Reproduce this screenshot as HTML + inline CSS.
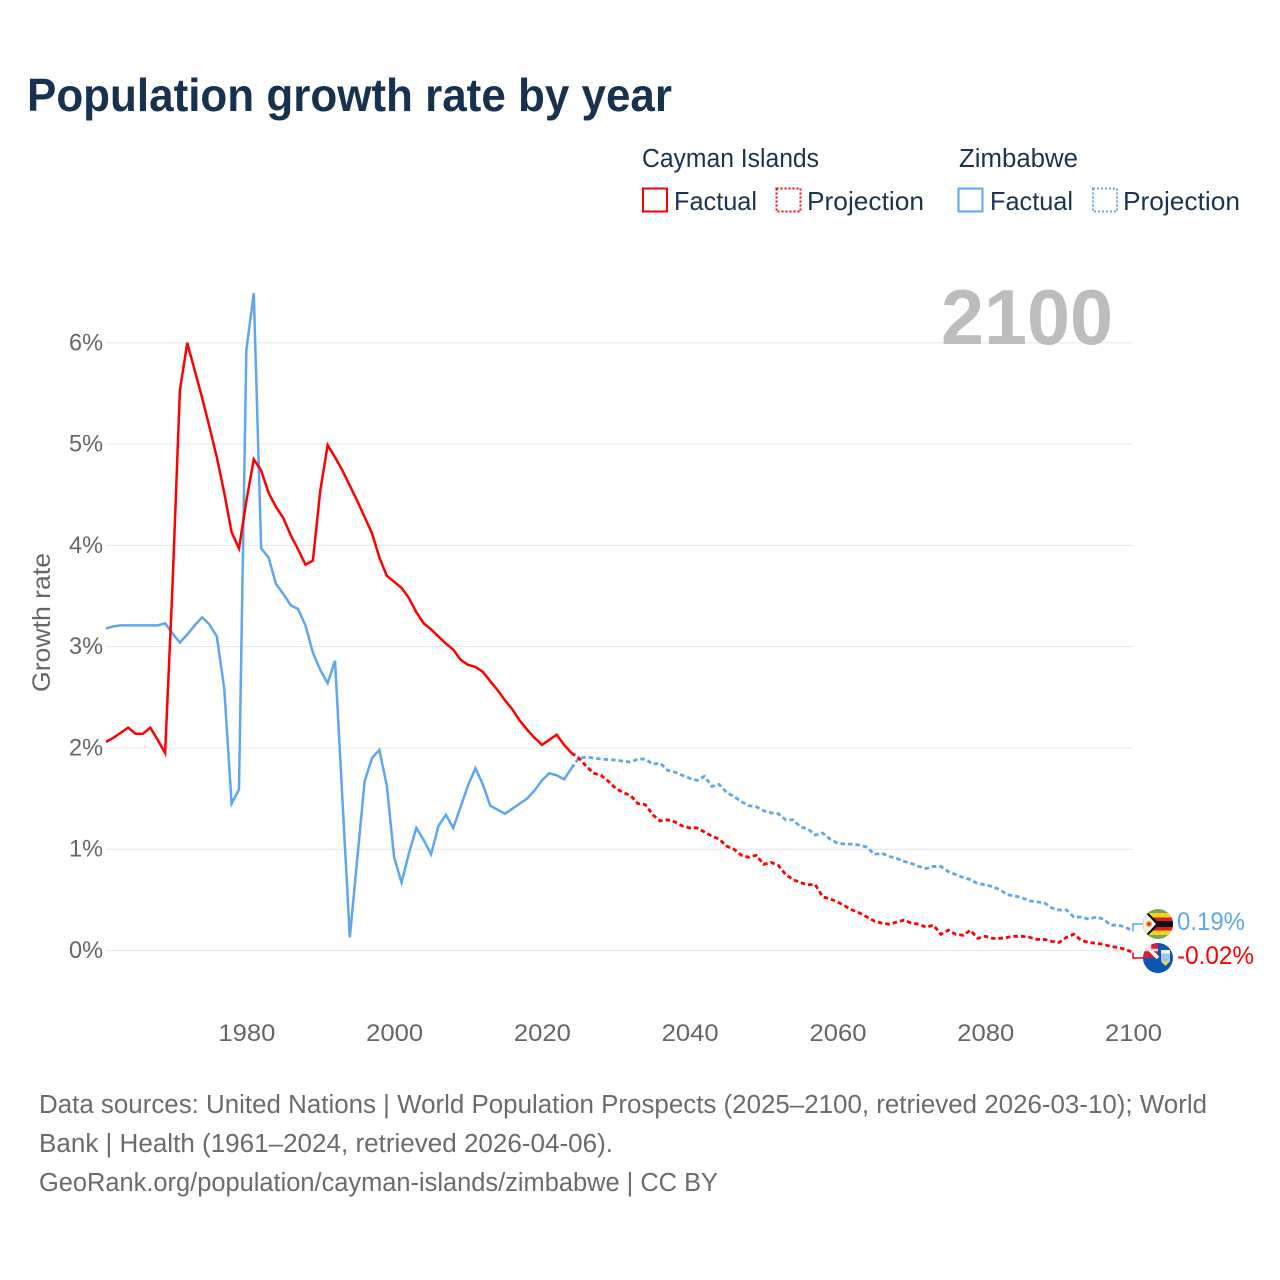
<!DOCTYPE html>
<html lang="en">
<head>
<meta charset="utf-8">
<title>Population growth rate by year</title>
<style>
html,body{margin:0;padding:0;background:#fff;width:1280px;height:1280px;overflow:hidden}
svg{display:block}
text{font-family:"Liberation Sans",sans-serif}
</style>
</head>
<body>
<svg id="chart" xmlns="http://www.w3.org/2000/svg" width="1280" height="1280" viewBox="0 0 1280 1280">
  <defs>
    <clipPath id="clip-zw"><circle cx="1158" cy="924" r="15"/></clipPath>
    <clipPath id="clip-ky"><circle cx="1158" cy="958" r="15"/></clipPath>
  </defs>
  <rect x="0" y="0" width="1280" height="1280" fill="#fff"/>
  <text x="27" y="111" font-size="46" font-weight="700" fill="#17324f" textLength="645" lengthAdjust="spacingAndGlyphs">Population growth rate by year</text>

  <g>
    <text x="642" y="167" font-size="25.5" fill="#1a3350" textLength="177" lengthAdjust="spacingAndGlyphs">Cayman Islands</text>
    <text x="959" y="167" font-size="25.5" fill="#1a3350" textLength="119" lengthAdjust="spacingAndGlyphs">Zimbabwe</text>
    <rect x="643" y="188.5" width="24" height="23" fill="none" stroke="#ff0000" stroke-width="2"/>
    <text x="674" y="210" font-size="26" fill="#1a3350" textLength="83" lengthAdjust="spacingAndGlyphs">Factual</text>
    <rect x="776.5" y="188.5" width="24" height="23" fill="none" stroke="#ff0000" stroke-width="2" stroke-dasharray="2 2"/>
    <text x="807" y="210" font-size="26" fill="#1a3350" textLength="117" lengthAdjust="spacingAndGlyphs">Projection</text>
    <rect x="958.5" y="188.5" width="24" height="23" fill="none" stroke="#5ea6ee" stroke-width="2"/>
    <text x="990" y="210" font-size="26" fill="#1a3350" textLength="83" lengthAdjust="spacingAndGlyphs">Factual</text>
    <rect x="1093" y="188.5" width="24" height="23" fill="none" stroke="#5ea6ee" stroke-width="2" stroke-dasharray="2 2"/>
    <text x="1123" y="210" font-size="26" fill="#1a3350" textLength="117" lengthAdjust="spacingAndGlyphs">Projection</text>
  </g>

  <g id="grid"></g>
  <text x="941" y="344" font-size="78" font-weight="700" fill="#bdbdbd" textLength="172" lengthAdjust="spacingAndGlyphs">2100</text>
  <text transform="translate(50,692) rotate(-90)" x="0" y="0" font-size="25" fill="#666" textLength="139" lengthAdjust="spacingAndGlyphs">Growth rate</text>
  <g id="yticks"></g>
  <g id="xticks"></g>
  <g id="series"></g>

  <g clip-path="url(#clip-zw)">
    <rect x="1143" y="909" width="30" height="30" fill="#76a84f"/>
    <rect x="1143" y="913" width="30" height="22" fill="#f5d020"/>
    <rect x="1143" y="917.5" width="30" height="13" fill="#d81e2c"/>
    <rect x="1143" y="921" width="30" height="6" fill="#111"/>
    <polygon points="1143,908 1160,924 1143,940" fill="#111"/>
    <polygon points="1143,910 1156,924 1143,938" fill="#efefef"/>
    <circle cx="1149" cy="924" r="3" fill="#e0a030"/>
    <circle cx="1149" cy="924" r="1.5" fill="#d81e2c"/>
  </g>
  <g clip-path="url(#clip-ky)">
    <rect x="1143" y="943" width="30" height="30" fill="#0a56b0"/>
    <rect x="1143" y="943" width="15" height="15" fill="#c8243c"/>
    <path d="M1146 946 L1158 958" stroke="#fff" stroke-width="3.5"/>
    <path d="M1143 950 H1158 M1150 943 V950" stroke="#f3d9de" stroke-width="2.5"/>
    <rect x="1161" y="950" width="9" height="3.5" fill="#f2f2f2"/>
    <rect x="1161" y="953.5" width="9" height="8" fill="#9fc8e8"/>
    <path d="M1161 961.5 H1170 L1165.5 966 Z" fill="#f2d24a"/>
  </g>
  <g id="endlabels"></g>

  <g font-size="25.5" fill="#6b6b6b">
    <text x="39" y="1113" textLength="1168" lengthAdjust="spacingAndGlyphs">Data sources: United Nations | World Population Prospects (2025–2100, retrieved 2026-03-10); World</text>
    <text x="39" y="1152" textLength="574" lengthAdjust="spacingAndGlyphs">Bank | Health (1961–2024, retrieved 2026-04-06).</text>
    <text x="39" y="1191" textLength="679" lengthAdjust="spacingAndGlyphs">GeoRank.org/population/cayman-islands/zimbabwe | CC BY</text>
  </g>
</svg>
<script>
const factualStartYear = 1961;
const projectionStartYear = 2025;
const lastYear = 2100;
const xTickYears = [1980, 2000, 2020, 2040, 2060, 2080, 2100];
const yTickValues = [0, 1, 2, 3, 4, 5, 6];
const yTickWidths = [34, 34, 34, 34, 34, 34, 34];

const caymanFactual = [
  2.06, 2.10, 2.15, 2.20, 2.14, 2.14, 2.20, 2.08, 1.95, 3.60,
  5.53, 6.00, 5.73, 5.46, 5.17, 4.87, 4.52, 4.13, 3.97, 4.44,
  4.85, 4.74, 4.52, 4.38, 4.27, 4.10, 3.96, 3.81, 3.85, 4.54,
  4.99, 4.87, 4.74, 4.59, 4.44, 4.28, 4.12, 3.88, 3.70, 3.64,
  3.58, 3.48, 3.34, 3.23, 3.17, 3.10, 3.03, 2.97, 2.87, 2.82,
  2.80, 2.75, 2.66, 2.57, 2.47, 2.38, 2.27, 2.18, 2.10, 2.03,
  2.08, 2.13, 2.03, 1.95
];
const caymanProjection = [
  1.90, 1.82, 1.75, 1.73, 1.67, 1.60, 1.56, 1.53, 1.45, 1.44,
  1.34, 1.28, 1.29, 1.27, 1.23, 1.21, 1.21, 1.17, 1.13, 1.10,
  1.03, 1.00, 0.94, 0.92, 0.94, 0.85, 0.87, 0.84, 0.75, 0.70,
  0.67, 0.65, 0.65, 0.53, 0.51, 0.48, 0.44, 0.40, 0.37, 0.33,
  0.29, 0.27, 0.26, 0.28, 0.30, 0.27, 0.26, 0.23, 0.25, 0.16,
  0.20, 0.16, 0.15, 0.20, 0.12, 0.14, 0.12, 0.12, 0.13, 0.14,
  0.14, 0.13, 0.11, 0.11, 0.09, 0.08, 0.13, 0.16, 0.10, 0.08,
  0.07, 0.06, 0.04, 0.03, 0.01, -0.02
];
const zimbabweFactual = [
  3.18, 3.20, 3.21, 3.21, 3.21, 3.21, 3.21, 3.21, 3.23, 3.13,
  3.04, 3.12, 3.21, 3.29, 3.22, 3.10, 2.59, 1.45, 1.59, 5.93,
  6.49, 3.97, 3.88, 3.62, 3.52, 3.41, 3.37, 3.21, 2.94, 2.77,
  2.64, 2.86, 1.49, 0.13, 0.90, 1.67, 1.90, 1.98, 1.63, 0.92,
  0.67, 0.96, 1.21, 1.09, 0.95, 1.23, 1.34, 1.21, 1.42, 1.63,
  1.80, 1.64, 1.43, 1.39, 1.35, 1.40, 1.45, 1.50, 1.58, 1.68,
  1.75, 1.73, 1.69, 1.80
];
const zimbabweProjection = [
  1.90, 1.91, 1.90, 1.89, 1.885, 1.88, 1.87, 1.86, 1.89, 1.89,
  1.84, 1.85, 1.78, 1.76, 1.73, 1.70, 1.68, 1.72, 1.62, 1.64,
  1.56, 1.52, 1.47, 1.43, 1.42, 1.38, 1.36, 1.35, 1.29, 1.29,
  1.22, 1.20, 1.14, 1.16, 1.10, 1.06, 1.05, 1.05, 1.04, 1.02,
  0.95, 0.96, 0.93, 0.91, 0.88, 0.86, 0.83, 0.81, 0.83, 0.83,
  0.78, 0.75, 0.72, 0.70, 0.66, 0.65, 0.63, 0.60, 0.55, 0.54,
  0.52, 0.49, 0.48, 0.47, 0.42, 0.40, 0.40, 0.33, 0.33, 0.31,
  0.33, 0.31, 0.25, 0.25, 0.23, 0.19
];

const SVG_NS = 'http://www.w3.org/2000/svg';
const RED = '#ff0000';
const BLUE = '#5ea6ee';

function xScale(year) { return 106 + (year - 1961) * ((1133 - 106) / (2100 - 1961)); }
function yScale(value) { return 950.5 - value * ((950.5 - 342.8) / 6); }

function linePath(startYear, values, prefix) {
  let d = prefix || '';
  values.forEach(function (v, i) {
    const x = xScale(startYear + i).toFixed(2);
    const y = yScale(v).toFixed(2);
    d += (d === '' ? 'M' : 'L') + x + ' ' + y + ' ';
  });
  return d;
}

const grid = document.getElementById('grid');
const yticks = document.getElementById('yticks');
const xticks = document.getElementById('xticks');
const series = document.getElementById('series');
const endlabels = document.getElementById('endlabels');

yTickValues.forEach(function (v, i) {
  const line = document.createElementNS(SVG_NS, 'line');
  
  
  line.setAttribute('x1', 106);
  line.setAttribute('x2', 1133);
  line.setAttribute('y1', yScale(v));
  line.setAttribute('y2', yScale(v));
  line.setAttribute('stroke', '#e9e9e9');
  line.setAttribute('stroke-width', '1.2');
  grid.appendChild(line);

  const t = document.createElementNS(SVG_NS, 'text');
  
  
  t.setAttribute('x', 69);
  t.setAttribute('y', yScale(v) + 7.5);
  t.setAttribute('font-size', '24');
  t.setAttribute('fill', '#666');
  t.setAttribute('textLength', yTickWidths[i]);
  t.setAttribute('lengthAdjust', 'spacingAndGlyphs');
  t.textContent = v + '%';
  yticks.appendChild(t);
});

xTickYears.forEach(function (year) {
  const t = document.createElementNS(SVG_NS, 'text');
  
  
  t.setAttribute('x', xScale(year) - 28.5 + 0.5);
  t.setAttribute('y', 1041);
  t.setAttribute('font-size', '24');
  t.setAttribute('fill', '#666');
  t.setAttribute('textLength', '57');
  t.setAttribute('lengthAdjust', 'spacingAndGlyphs');
  t.textContent = String(year);
  xticks.appendChild(t);
});

function addSeriesPath(name, d, color, dash) {
  const p = document.createElementNS(SVG_NS, 'path');
  
  
  p.setAttribute('d', d);
  p.setAttribute('fill', 'none');
  p.setAttribute('stroke', color);
  p.setAttribute('stroke-width', dash ? '2.8' : '2.5');
  p.setAttribute('stroke-linejoin', 'miter');
  if (dash) { p.setAttribute('stroke-dasharray', dash); }
  series.appendChild(p);
}

function projectionPath(factual, projection) {
  const lastFactualYear = factualStartYear + factual.length - 1;
  const start = 'M' + xScale(lastFactualYear).toFixed(2) + ' ' + yScale(factual[factual.length - 1]).toFixed(2) + ' ';
  return linePath(projectionStartYear, projection, start);
}

addSeriesPath('line-zimbabwe-factual', linePath(factualStartYear, zimbabweFactual), BLUE);
addSeriesPath('line-cayman-factual', linePath(factualStartYear, caymanFactual), RED);
addSeriesPath('line-zimbabwe-projection', projectionPath(zimbabweFactual, zimbabweProjection), BLUE, '4.5 3');
addSeriesPath('line-cayman-projection', projectionPath(caymanFactual, caymanProjection), RED, '4.5 3');

function addEnd(nameKey, values, labelY, color, width) {
  const last = values[values.length - 1];
  const x = xScale(lastYear);
  const c = document.createElementNS(SVG_NS, 'path');
  
  
  c.setAttribute('d', 'M' + x + ' ' + yScale(last) + ' V' + labelY + ' H1143');
  c.setAttribute('fill', 'none');
  c.setAttribute('stroke', color);
  c.setAttribute('stroke-width', '1.5');
  series.appendChild(c);

  const t = document.createElementNS(SVG_NS, 'text');
  
  
  t.setAttribute('x', 1177);
  t.setAttribute('y', labelY + 6);
  t.setAttribute('font-size', '25');
  t.setAttribute('fill', color);
  t.setAttribute('textLength', width);
  t.setAttribute('lengthAdjust', 'spacingAndGlyphs');
  t.textContent = last.toFixed(2) + '%';
  endlabels.appendChild(t);
}
addEnd('zimbabwe', zimbabweProjection, 924, BLUE, 68);
addEnd('cayman-islands', caymanProjection, 958, RED, 77);
</script>
</body>
</html>
